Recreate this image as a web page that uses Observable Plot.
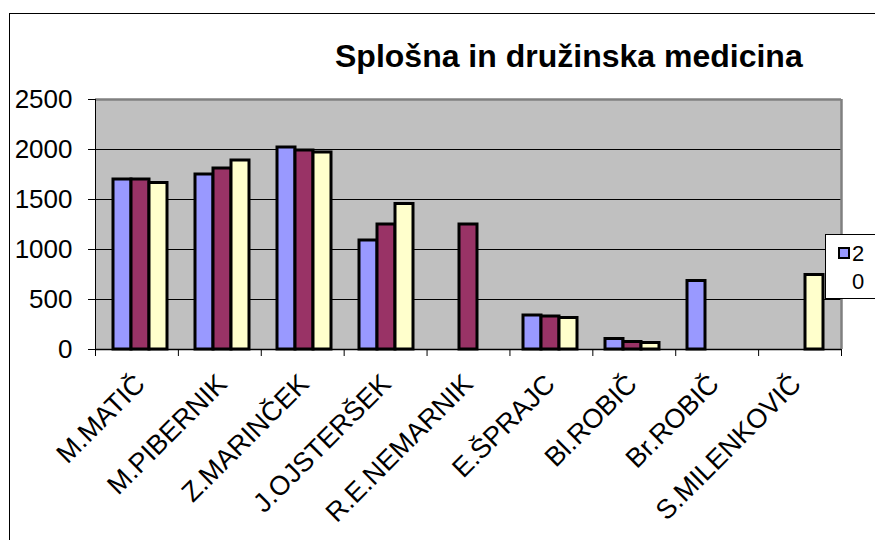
<!DOCTYPE html>
<html>
<head>
<meta charset="utf-8">
<script src="https://cdn.jsdelivr.net/npm/d3@7"></script>
<script src="https://cdn.jsdelivr.net/npm/@observablehq/plot@0.6"></script>
<style>
  html, body { margin: 0; padding: 0; background: white; overflow: hidden; }
  #wrap { position: relative; width: 875px; height: 540px; font-family: "Liberation Sans", Arial, sans-serif; }
  #wrap svg { position: absolute; left: 0; top: 0; }
  #border { position: absolute; left: 9px; top: 13px; width: 1000px; height: 1000px; border: 1px solid black; }
  #title { position: absolute; left: 335px; top: 40px; font-size: 32px; font-weight: bold; line-height: 1; white-space: nowrap; }
  #legend { position: absolute; left: 825px; top: 234px; width: 100px; height: 63px; background: white; border: 1px solid black; font-size: 22px; }
  #legend .sw { position: absolute; left: 12px; top: 12px; width: 8px; height: 8px; border: 2px solid black; }
  #legend .t { position: absolute; left: 26px; line-height: 1; }
</style>
</head>
<body>
<div id="wrap">
  <div id="border"></div>
</div>
<script>
const categories = ["M.MATIČ", "M.PIBERNIK", "Z.MARINČEK", "J.OJSTERŠEK", "R.E.NEMARNIK", "E.ŠPRAJC", "Bl.ROBIČ", "Br.ROBIČ", "S.MILENKOVIČ"];
const series = ["2006", "2007", "2008"];
const seriesColors = ["#9999ff", "#993366", "#ffffcc"];
const values1 = [1700, 1750, 2020, 1090, null, 340, 105, 685, null];
const values2 = [1700, 1810, 1990, 1250, 1250, 330, 75, null, null];
const values3 = [1665, 1890, 1970, 1455, null, 315, 65, null, 745];
const yTicks = [0, 500, 1000, 1500, 2000, 2500];
const title = "Splošna in družinska medicina";
const legendLines = ["2", "0"];

const allValues = [values1, values2, values3];
const rows = [];
categories.forEach((c, i) => {
  series.forEach((s, j) => {
    const v = allValues[j][i];
    if (v != null) rows.push({cat: c, series: s, value: v});
  });
});

const W = 875, H = 540;
const margins = {marginLeft: 95, marginRight: 34, marginTop: 99, marginBottom: 191};
const font = {fontFamily: "'Liberation Sans', Arial, sans-serif", background: "transparent", overflow: "visible"};

const bg = Plot.plot({
  width: W, height: H, ...margins,
  style: font,
  x: {domain: [0, categories.length], axis: null},
  y: {domain: [0, 2500], axis: null},
  marks: [
    Plot.frame({fill: "#c0c0c0"}),
    Plot.ruleY(yTicks.filter(d => d > 0 && d < 2500), {stroke: "black", strokeWidth: 1.2}),
    Plot.ruleY([2500], {stroke: "#808080", strokeWidth: 2.5}),
    Plot.ruleX([categories.length], {stroke: "#808080", strokeWidth: 2.5}),
    Plot.ruleY([0], {stroke: "black", strokeWidth: 1.5}),
    Plot.ruleX([0], {stroke: "black", strokeWidth: 1}),
    Plot.axisY({ticks: yTicks, tickSize: 7, tickPadding: 16, fontSize: 26, tickFormat: d3.format("d"), label: null}),
    Plot.axisX({ticks: d3.range(0, categories.length + 1), tickSize: 7, tickFormat: () => "", label: null})
  ]
});

const bars = Plot.plot({
  width: W, height: H, ...margins,
  style: font,
  fx: {domain: categories, paddingInner: 0.337, paddingOuter: 0.1685, label: null},
  x: {domain: series, padding: 0, axis: null},
  y: {domain: [0, 2500], axis: null},
  color: {domain: series, range: seriesColors},
  marks: [
    Plot.barY(rows, {fx: "cat", x: "series", y: "value", fill: "series", stroke: "black", strokeWidth: 3}),
    Plot.axisFx({anchor: "bottom", tickSize: 0, tickPadding: 30, tickRotate: -45, fontSize: 27, label: null})
  ]
});

const wrap = document.getElementById("wrap");
wrap.insertBefore(bg, wrap.firstChild);
wrap.insertBefore(bars, bg.nextSibling);

const t = document.createElement("div");
t.id = "title";
t.textContent = title;
wrap.appendChild(t);

const lg = document.createElement("div");
lg.id = "legend";
const sw = document.createElement("div");
sw.className = "sw";
sw.style.background = seriesColors[0];
lg.appendChild(sw);
legendLines.forEach((txt, i) => {
  const s = document.createElement("div");
  s.className = "t";
  s.style.top = (8 + i * 28) + "px";
  s.textContent = txt;
  lg.appendChild(s);
});
wrap.appendChild(lg);
</script>
</body>
</html>
